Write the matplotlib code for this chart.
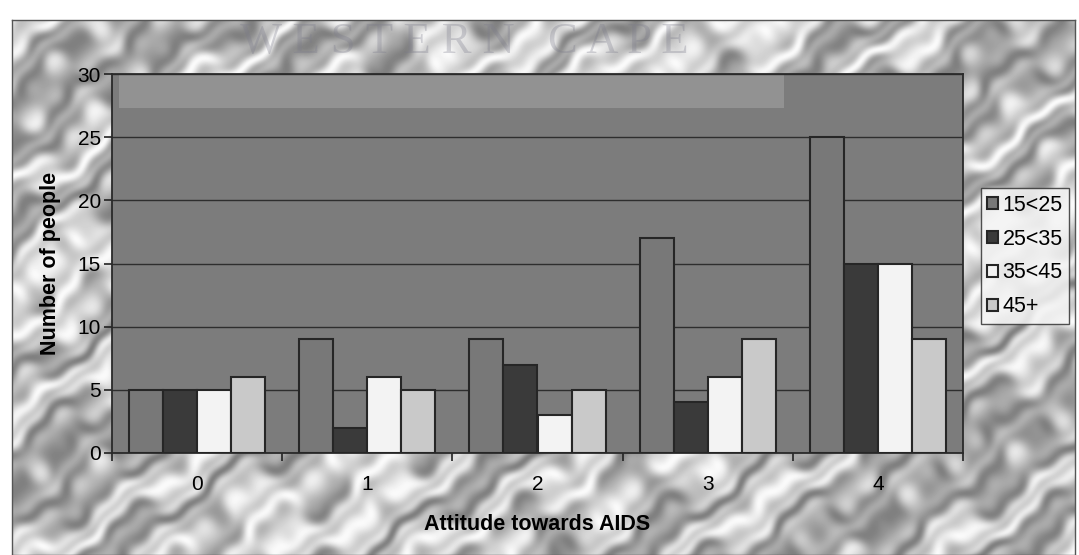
import numpy as np
import matplotlib.pyplot as plt
from matplotlib.patches import Rectangle

plt.rcParams['font.family'] = ['Liberation Sans', 'DejaVu Sans']

attitude = ['0', '1', '2', '3', '4']
age_groups = ['15<25', '25<35', '35<45', '45+']
age_15_25 = [5, 9, 9, 17, 25]
age_25_35 = [5, 2, 7, 4, 15]
age_35_45 = [5, 6, 3, 6, 15]
age_45_up = [6, 5, 5, 9, 9]
series = [age_15_25, age_25_35, age_35_45, age_45_up]
bar_colors = ['#787878', '#3a3a3a', '#f3f3f3', '#c9c9c9']

fig = plt.figure(figsize=(10.79, 5.55), dpi=100)
fig.patch.set_facecolor('white')

# marble-like backdrop behind the whole chart
bg = fig.add_axes([12 / 1079, 0, 1063 / 1079, 535 / 555], zorder=0)
h, w = 535, 1063
yy, xx = np.mgrid[0:h, 0:w].astype(float)
turb = (np.sin(xx * 0.021 + yy * 0.033) + 0.7 * np.sin(xx * 0.047 - yy * 0.036 + 1.0)
        + 0.5 * np.sin(xx * 0.083 + yy * 0.069 + 2.0) + 0.3 * np.sin(xx * 0.13 - yy * 0.11 + 0.5))
streak = np.sin(xx * 0.028 + yy * 0.05 + 1.6 * turb)
fine = np.sin(xx * 0.16 + yy * 0.21 + 2.2 * turb)
tex = 0.74 + 0.16 * streak + 0.08 * fine
bg.imshow(np.clip(tex, 0.3, 1.0), cmap='gray', vmin=0, vmax=1, aspect='auto',
          interpolation='bicubic')
bg.set_xticks([])
bg.set_yticks([])
for s in bg.spines.values():
    s.set_color('#555555')
    s.set_linewidth(1)

fig.text(0.43, 0.925, 'W E S T E R N   C A P E', family='Liberation Serif', fontsize=32,
         color='#7a7a8a', alpha=0.3, ha='center', va='center', zorder=1)

ax = fig.add_axes([112 / 1079, 1 - 453 / 555, 851 / 1079, 379 / 555], zorder=2)
ax.set_facecolor('#7c7c7c')

ax.add_patch(Rectangle((-0.46, 27.3), 3.91, 2.7, facecolor='#929292',
                       edgecolor='none', zorder=0.5))

x = np.arange(len(attitude))
width = 0.2
for i, (vals, label, col) in enumerate(zip(series, age_groups, bar_colors)):
    ax.bar(x - 0.3 + i * width, vals, width, color=col, edgecolor='#262626',
           linewidth=1.5, label=label, zorder=3)

ax.set_xlim(-0.5, 4.5)
ax.set_ylim(0, 30)
ax.set_yticks(range(0, 31, 5))
ax.yaxis.grid(True, color='#2e2e2e', linewidth=1)
ax.set_axisbelow(True)

ax.set_xticks(np.arange(-0.5, 5, 1))
ax.set_xticklabels([])
ax.set_xticks(x, minor=True)
ax.set_xticklabels(attitude, minor=True)
ax.tick_params(axis='x', which='major', length=6, width=1.2, color='#222222')
ax.tick_params(axis='x', which='minor', length=0, pad=16, labelsize=15)
ax.tick_params(axis='y', length=6, width=1.2, color='#222222', labelsize=15, pad=2)
for s in ax.spines.values():
    s.set_color('#2a2a2a')
    s.set_linewidth(1.3)

ax.set_xlabel('Attitude towards AIDS', fontsize=15.5, fontweight='bold', labelpad=14)
ax.set_ylabel('Number of people', fontsize=15.5, fontweight='bold', labelpad=12)

leg = fig.legend(loc='center left', bbox_to_anchor=(981 / 1079, 1 - 256 / 555),
                 fontsize=15.5, frameon=True, fancybox=False, handlelength=0.5,
                 handleheight=0.5, handletextpad=0.2, labelspacing=0.6,
                 borderpad=0.3, borderaxespad=0)
leg.get_frame().set_facecolor('#f4f4f4')
leg.get_frame().set_edgecolor('#333333')
leg.get_frame().set_alpha(0.85)
leg.set_zorder(4)

fig.savefig('out.png', dpi=100)
